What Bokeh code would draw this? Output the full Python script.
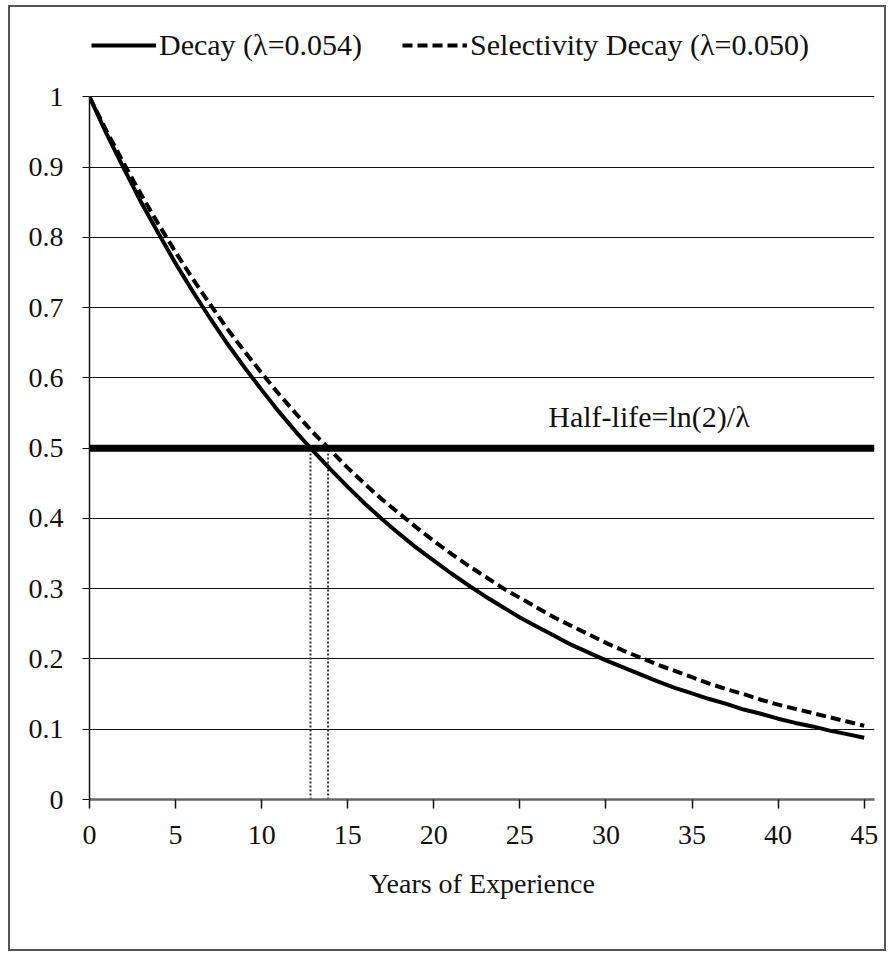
from bokeh.plotting import figure
from bokeh.models import Span, Legend, LegendItem, FixedTicker
from bokeh.core.properties import value
from bokeh.embed import file_html
from bokeh.resources import INLINE

years = list(range(0, 46))
decay = [1.000, 0.947, 0.898, 0.850, 0.806, 0.763, 0.723, 0.685, 0.649, 0.615,
         0.583, 0.552, 0.523, 0.496, 0.470, 0.445, 0.421, 0.399, 0.378, 0.358,
         0.340, 0.322, 0.305, 0.289, 0.274, 0.259, 0.246, 0.233, 0.220, 0.209,
         0.198, 0.188, 0.178, 0.168, 0.159, 0.151, 0.143, 0.136, 0.128, 0.122,
         0.115, 0.109, 0.104, 0.098, 0.093, 0.088]
sel_decay = [1.000, 0.951, 0.905, 0.861, 0.819, 0.779, 0.741, 0.705, 0.670, 0.638,
             0.607, 0.577, 0.549, 0.522, 0.497, 0.472, 0.449, 0.427, 0.407, 0.387,
             0.368, 0.350, 0.333, 0.317, 0.301, 0.287, 0.273, 0.259, 0.247, 0.235,
             0.223, 0.212, 0.202, 0.192, 0.183, 0.174, 0.165, 0.157, 0.150, 0.142,
             0.135, 0.129, 0.123, 0.117, 0.111, 0.105]
half_life_years = [12.84, 13.86]
half_level = 0.5
x_ticks = [0, 5, 10, 15, 20, 25, 30, 35, 40, 45]
y_ticks = [0, 0.1, 0.2, 0.3, 0.4, 0.5, 0.6, 0.7, 0.8, 0.9, 1.0]
labels = ["Decay (\u03bb=0.054)", "Selectivity Decay (\u03bb=0.050)"]
annot = "Half-life=ln(2)/\u03bb"

FONT = "Liberation Serif"

p = figure(width=878, height=946, output_backend="svg", toolbar_location=None,
           x_range=(0, 45.6), y_range=(0, 1.113),
           min_border_left=79, min_border_right=14, min_border_top=10,
           min_border_bottom=154,
           styles={"border": "2px solid #555", "margin": "5px 0 0 8px"})
p.outline_line_color = None
p.background_fill_color = "white"
p.border_fill_color = "white"

# grid
p.xgrid.grid_line_color = None
p.ygrid.ticker = FixedTicker(ticks=y_ticks)
p.ygrid.grid_line_color = "#111111"
p.ygrid.grid_line_width = 1.2

# axes
p.xaxis.ticker = FixedTicker(ticks=x_ticks)
p.yaxis.ticker = FixedTicker(ticks=y_ticks)
p.yaxis.bounds = (0, 1.0)
p.yaxis.major_label_overrides = {0: "0", 1.0: "1"}
for ax in (p.xaxis[0], p.yaxis[0]):
    ax.major_label_text_font = FONT
    ax.major_label_text_font_size = "28px"
    ax.major_label_text_color = "#111111"
    ax.minor_tick_line_color = None
    ax.major_tick_in = 0
p.yaxis.axis_line_color = "#111111"
p.yaxis.axis_line_width = 1.5
p.yaxis.major_tick_out = 7
p.yaxis.major_tick_line_color = "#111111"
p.yaxis.major_label_standoff = 19
p.xaxis.axis_line_color = "#666666"
p.xaxis.axis_line_width = 2.5
p.xaxis.major_tick_out = 9
p.xaxis.major_tick_line_width = 1.5
p.xaxis.major_tick_line_color = "#111111"
p.xaxis.major_label_standoff = 17
p.xaxis.axis_label = "Years of Experience"
p.xaxis.axis_label_text_font = FONT
p.xaxis.axis_label_text_font_size = "28px"
p.xaxis.axis_label_text_font_style = "normal"
p.xaxis.axis_label_text_color = "#111111"
p.xaxis.axis_label_standoff = 21

# half-life line
p.add_layout(Span(location=half_level, dimension="width", line_color="black",
                  line_width=7))

# dotted verticals
p.segment(x0=half_life_years, y0=[0, 0], x1=half_life_years,
          y1=[half_level, half_level], line_color="#333333", line_width=2,
          line_dash="2 2")

r1 = p.line(years, decay, line_color="black", line_width=4)
r2 = p.line(years, sel_decay, line_color="black", line_width=4, line_dash="10 5")

p.text(x=[32.5], y=[0.545], text=[annot], text_font=value(FONT),
       text_font_size="30px", text_align="center", text_baseline="alphabetic",
       text_color="#111111")

legend = Legend(items=[LegendItem(label=labels[0], renderers=[r1]),
                       LegendItem(label=labels[1], renderers=[r2])],
                orientation="horizontal", location=(2, 737))
legend.label_text_font = FONT
legend.label_text_font_size = "30px"
legend.label_text_color = "#111111"
legend.border_line_color = None
legend.background_fill_alpha = 0
legend.glyph_width = 65
legend.label_standoff = 3
legend.spacing = 40
legend.padding = 4
legend.margin = 0
p.add_layout(legend, "center")

open("out.html", "w").write(file_html(p, INLINE))
